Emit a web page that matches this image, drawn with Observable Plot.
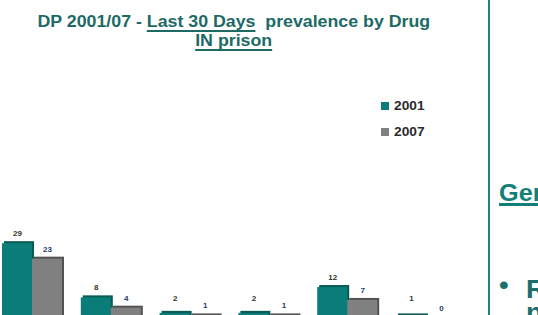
<!DOCTYPE html>
<html>
<head>
<meta charset="utf-8">
<script src="https://cdn.jsdelivr.net/npm/d3@7"></script>
<script src="https://cdn.jsdelivr.net/npm/@observablehq/plot@0.6"></script>
<style>
  html, body { margin: 0; padding: 0; background: #fff; }
  body { width: 538px; height: 315px; overflow: hidden; position: relative; font-family: "Liberation Sans", Arial, sans-serif; }
  #title { width: 467px; height: 60px; box-sizing: border-box; padding-top: 12px; text-align: center; color: #1D6A65; font-weight: bold; font-size: 16px; line-height: 19px; white-space: pre; }
  #title span.line { display: inline-block; transform: scaleX(1.11); transform-origin: center; }
  #title u { text-decoration-thickness: 2px; text-underline-offset: 3px; }
  .leg { position: absolute; left: 381px; font-weight: bold; font-size: 12.5px; color: #2b2b2b; line-height: 14px; }
  .leg i { display: inline-block; width: 8px; height: 8px; margin-right: 5px; vertical-align: 0px; }
  .leg b { display: inline-block; transform: scaleX(1.1); transform-origin: left; }
  #vline { position: absolute; left: 488px; top: 0; width: 2px; height: 315px; background: #1E8480; }
  .side { position: absolute; font-weight: bold; white-space: pre; transform: scaleX(1.1); transform-origin: left; }
</style>
</head>
<body>
<div id="title"><span class="line">DP 2001/07 - <u>Last 30 Days</u>  prevalence by Drug</span><br><span class="line"><u>IN prison</u></span></div>
<div id="chart"></div>
<div id="leg1" class="leg" style="top:99px"><i></i><b></b></div>
<div id="leg2" class="leg" style="top:125px"><i></i><b></b></div>
<div id="vline"></div>
<div class="side" style="left:499px; top:180px; font-size:23px; color:#128079; text-decoration: underline; text-decoration-thickness: 3px; text-underline-offset: 2px;">General</div>
<div class="side" style="left:499px; top:271px; font-size:25px; color:#1B6E6A;">•</div>
<div class="side" style="left:526px; top:275px; font-size:25px; color:#1B6E6A;">R</div>
<div class="side" style="left:526px; top:298px; font-size:25px; color:#1B6E6A;">n</div>
<script>
const categories = ["Drug 1", "Drug 2", "Drug 3", "Drug 4", "Drug 5", "Drug 6"];
const years = ["2001", "2007"];
const values2001 = [29, 8, 2, 2, 12, 1];
const values2007 = [23, 4, 1, 1, 7, 0];
const barColors = ["#0B7D78", "#808080"];
const shadeColors = ["#0A5A56", "#525252"];
const labelColors = ["#33331F", "#1F3A70"];

const data = [];
categories.forEach((c, i) => {
  data.push({category: c, year: years[0], value: values2001[i]});
  data.push({category: c, year: years[1], value: values2007[i]});
});

// legend
[["leg1", 0], ["leg2", 1]].forEach(([id, k]) => {
  const el = document.getElementById(id);
  el.querySelector("i").style.background = barColors[k];
  el.querySelector("b").textContent = years[k];
});

const labelFloor = {"2001": 4, "2007": 0};

const chart = Plot.plot({
  width: 538,
  height: 288,
  marginTop: 0,
  marginBottom: 30,
  marginLeft: 2,
  marginRight: 82,
  fx: {domain: categories, paddingInner: 0.2386, paddingOuter: 0, round: false, axis: null, label: null},
  x: {domain: years, padding: 0, round: false, axis: null},
  y: {domain: [0, 100], axis: null},
  color: {domain: years, range: barColors},
  marks: [
    Plot.barY(data, {fx: "category", x: "year", y: "value", fill: d => shadeColors[years.indexOf(d.year)], dx: 2, dy: -2, inset: 0}),
    Plot.barY(data, {fx: "category", x: "year", y: "value", fill: "year", inset: 0}),
    ...years.map((yr, k) => Plot.text(data.filter(d => d.year === yr), {
      fx: "category", x: "year",
      y: d => Math.max(d.value, labelFloor[yr]),
      text: d => String(d.value),
      dy: -10, fontSize: 8, fontWeight: "bold",
      fill: labelColors[k]
    }))
  ],
  style: {fontFamily: "Liberation Sans, Arial, sans-serif", overflow: "visible"}
});
document.getElementById("chart").appendChild(chart);
</script>
</body>
</html>
